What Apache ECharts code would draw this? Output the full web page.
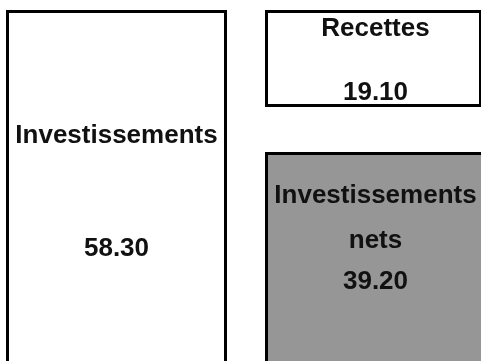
<!DOCTYPE html>
<html>
<head>
<meta charset="utf-8">
<script src="https://cdn.jsdelivr.net/npm/echarts@6/dist/echarts.min.js"></script>
<style>
  html, body { margin: 0; padding: 0; background: #fff; }
  #chart { width: 481px; height: 361px; }
</style>
</head>
<body>
<div id="chart"></div>
<script>
// Données
const names = ["Investissements", "Recettes", "Investissements nets"]
const values = [58.3, 19.1, 39.2]
const columns = [0, 1, 1] // colonne de chaque boîte (la première de la colonne est en haut)
const columnNames = ["Emplois", "Ressources"]

// Styles
const fills = ["#ffffff", "#ffffff", "#969696"]
const boxWidths = [218, 214, 218]
const gapAbove = 48 // espace (px) entre deux boîtes empilées
const labelOffsets = [[126, 239], [19, 83], [44, 89, 130]] // centre des lignes, depuis le haut
const font = "bold 26px 'Liberation Sans', Arial, sans-serif"

// Base de chaque boîte dans sa colonne
const bases = values.map((v, i) => {
  let b = 0
  for (let j = i + 1; j < values.length; j++) {
    if (columns[j] === columns[i]) b += values[j]
  }
  return b
})
const total = Math.max(...columnNames.map((c, k) =>
  values.reduce((s, v, i) => (columns[i] === k ? s + v : s), 0)))

const renderItem = (params, api) => {
  const i = params.dataIndex
  const col = api.value(0)
  const base = api.value(1)
  const val = api.value(2)
  const cx = api.coord([col, base])[0]
  const yTop = api.coord([col, base + val])[1]
  let yBottom = api.coord([col, base])[1]
  if (base > 0) yBottom -= gapAbove
  const x = cx - 109

  const lines = i === 2
    ? ["Investissements", "nets", val.toFixed(2)]
    : [names[i], val.toFixed(2)]

  const children = [{
    type: "rect",
    shape: { x: x, y: yTop, width: boxWidths[i], height: yBottom - yTop },
    style: { fill: fills[i], stroke: "#000", lineWidth: 3 },
  }]
  lines.forEach((t, k) => {
    children.push({
      type: "text",
      x: cx,
      y: yTop - 1.5 + labelOffsets[i][k],
      style: {
        text: t,
        font: font,
        fill: "#111",
        align: "center",
        verticalAlign: "middle",
      },
    })
  })
  return { type: "group", children: children }
}

const chart = echarts.init(document.getElementById("chart"))

const option = {
  animation: false,
  backgroundColor: "#fff",
  grid: {
    left: -13,
    right: -24,
    top: 11.5,
    bottom: -84,
    outerBoundsMode: "none",
  },
  xAxis: {
    type: "category",
    data: columnNames,
    show: false,
  },
  yAxis: {
    type: "value",
    min: 0,
    max: total,
    show: false,
  },
  series: [
    {
      type: "custom",
      renderItem: renderItem,
      clip: false,
      data: values.map((v, i) => [columns[i], bases[i], v]),
    },
  ],
}

chart.setOption(option)
</script>
</body>
</html>
